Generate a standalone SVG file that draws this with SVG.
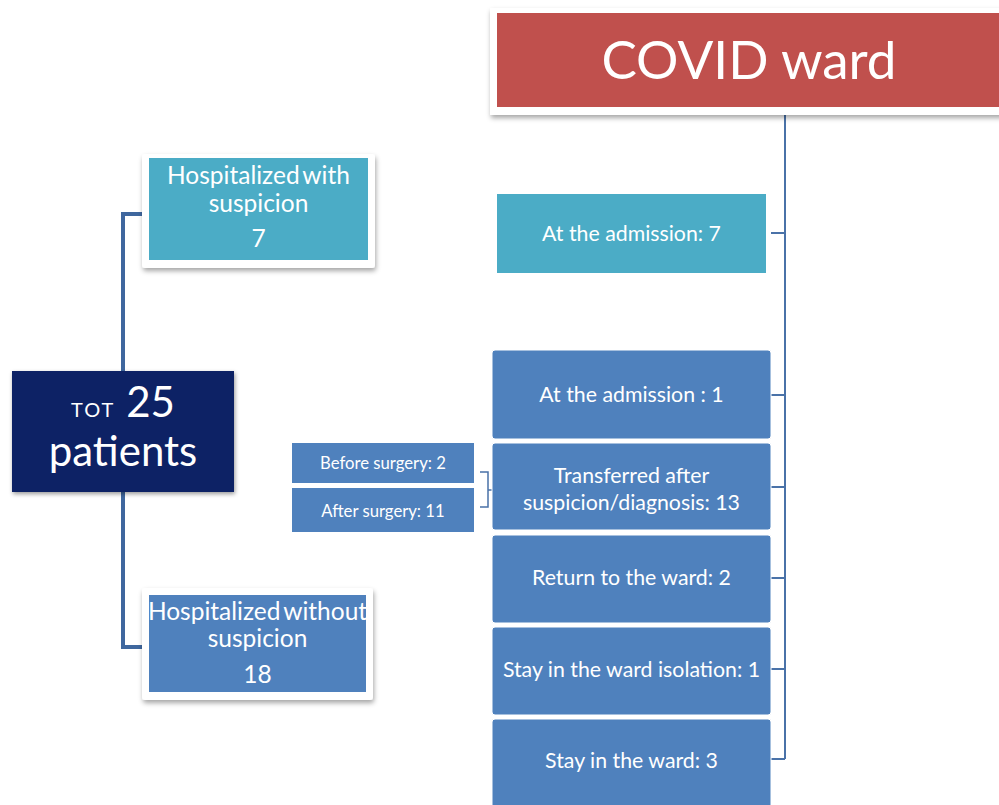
<svg xmlns="http://www.w3.org/2000/svg" width="999" height="805" viewBox="0 0 999 805">
<defs>
<filter id="sh" x="-10%" y="-10%" width="125%" height="135%">
<feDropShadow dx="1" dy="3" stdDeviation="2.5" flood-color="#000" flood-opacity="0.35"/>
</filter>
<filter id="sh2" x="-10%" y="-10%" width="125%" height="135%">
<feDropShadow dx="1" dy="2" stdDeviation="2" flood-color="#000" flood-opacity="0.4"/>
</filter>
</defs>
<style>
text{font-family:Lato,"Open Sans","Liberation Sans",sans-serif;fill:#fff;text-anchor:middle}
.card{fill:#fff;filter:url(#sh)}
.blue{fill:#4F81BD;stroke:#fff;stroke-width:1}
.teal{fill:#4BACC6}
.conL{fill:none;stroke:#3F679E;stroke-width:4}
.conR{fill:none;stroke:#4A72A8;stroke-width:2}
.br{fill:none;stroke:#4A72A8;stroke-width:1.5}
.t22{font-size:21.3px}
.t18{font-size:16.7px}
.t25{font-size:24.5px}
</style>
<rect width="999" height="805" fill="#fff"/>

<g id="connectors">
<path class="conL" d="M123,372 V214 H143"/>
<path class="conL" d="M123,492 V647 H143"/>
<path class="conR" d="M785,115 V759"/>
<path class="conR" d="M771,233 H785 M771,395 H785 M771,487 H785 M771,578 H785 M771,669 H785 M771,759 H785"/>
<path class="br" d="M480,472 H488 V507 H480 M488,490 H492"/>
</g>

<g id="covid-ward">
<rect class="card" x="490" y="8" width="520" height="107"/>
<rect x="497" y="13" width="510" height="94" fill="#C0504D"/>
<text x="749" y="79" style="font-size:53px">COVID ward</text>
</g>

<g id="tot">
<rect x="12" y="371" width="222" height="121" fill="#0E2465" filter="url(#sh2)"/>
<text x="123" y="417" style="font-size:42px"><tspan style="font-size:20px" letter-spacing="2">TOT</tspan> 25</text>
<text x="123" y="466" style="font-size:42px">patients</text>
</g>

<g id="hosp-with">
<rect class="card" x="142" y="154" width="233" height="114" rx="3"/>
<rect class="teal" x="149" y="158" width="219" height="102"/>
<text class="t25" x="258.5" y="184" word-spacing="-3">Hospitalized with</text>
<text class="t25" x="258.5" y="212">suspicion</text>
<text class="t25" x="258.5" y="247">7</text>
</g>

<g id="hosp-without">
<rect class="card" x="142" y="588" width="231" height="112" rx="3"/>
<rect x="149" y="595" width="217" height="97" fill="#4F81BD"/>
<text class="t25" x="257.5" y="620" word-spacing="-3">Hospitalized without</text>
<text class="t25" x="257.5" y="647">suspicion</text>
<text class="t25" x="257.5" y="683">18</text>
</g>

<g id="adm7">
<rect class="teal" x="497" y="194" width="269" height="79"/>
<text class="t22" x="631.5" y="241">At the admission: 7</text>
</g>

<g id="adm1">
<rect class="blue" x="492" y="350" width="279" height="89" rx="3"/>
<text class="t22" x="631.5" y="402">At the admission : 1</text>
</g>

<g id="transferred">
<rect class="blue" x="492" y="443" width="279" height="87" rx="3"/>
<text class="t22" x="631.5" y="483">Transferred after</text>
<text class="t22" x="631.5" y="510">suspicion/diagnosis: 13</text>
</g>

<g id="return">
<rect class="blue" x="492" y="535" width="279" height="88" rx="3"/>
<text class="t22" x="631.5" y="585">Return to the ward: 2</text>
</g>

<g id="isolation">
<rect class="blue" x="492" y="627" width="279" height="88" rx="3"/>
<text class="t22" x="631.5" y="677">Stay in the ward isolation: 1</text>
</g>

<g id="stay">
<rect class="blue" x="492" y="719" width="279" height="92" rx="3"/>
<text class="t22" x="631.5" y="768">Stay in the ward: 3</text>
</g>

<g id="before">
<rect x="292" y="443" width="182" height="40" fill="#4F81BD"/>
<text class="t18" x="383" y="469">Before surgery: 2</text>
</g>

<g id="after">
<rect x="292" y="488" width="182" height="44" fill="#4F81BD"/>
<text class="t18" x="383" y="517">After surgery: 11</text>
</g>
</svg>
